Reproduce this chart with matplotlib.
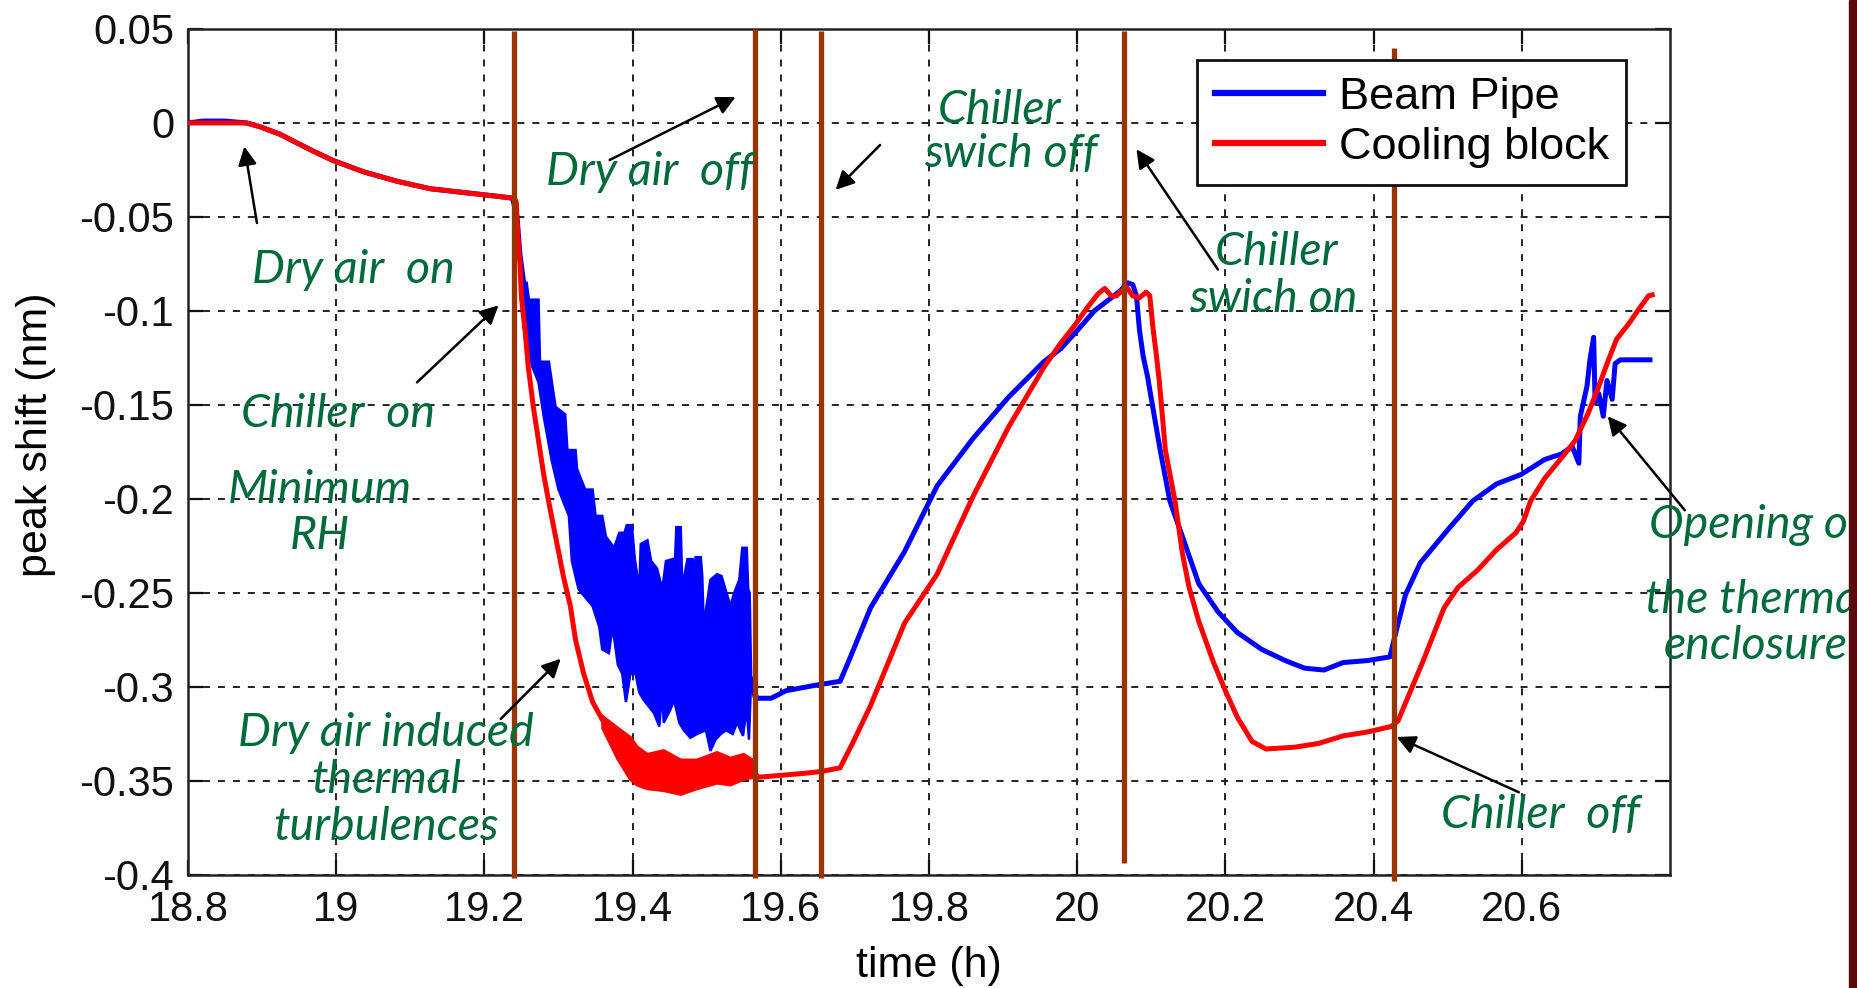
import numpy as np
import matplotlib.pyplot as plt
from matplotlib.patches import Rectangle

plt.rcParams['font.family'] = ['Liberation Sans', 'DejaVu Sans']
plt.rcParams['axes.unicode_minus'] = False

# Beam Pipe (blue) - smooth parts before / after the turbulent stretch
blue_t1 = [18.80, 18.82, 18.85, 18.879, 18.897, 18.924, 18.969, 18.996, 19.037, 19.082,
           19.127, 19.172, 19.217, 19.238, 19.244, 19.248, 19.253]
blue_v1 = [0.0, 0.001, 0.001, 0.0, -0.002, -0.006, -0.015, -0.020, -0.026, -0.031,
           -0.035, -0.037, -0.039, -0.040, -0.050, -0.070, -0.085]
blue_t2 = [19.560, 19.565, 19.570, 19.587, 19.607, 19.648, 19.680, 19.694, 19.721, 19.767,
           19.811, 19.859, 19.907, 19.955, 19.978, 20.001, 20.023, 20.046, 20.059, 20.068,
           20.075, 20.080, 20.084, 20.089, 20.095, 20.098, 20.112, 20.125, 20.142, 20.164,
           20.190, 20.216, 20.249, 20.281, 20.307, 20.333, 20.359, 20.391, 20.422, 20.430,
           20.443, 20.463, 20.482, 20.501, 20.534, 20.566, 20.599, 20.631, 20.654, 20.668,
           20.677, 20.679, 20.683, 20.688, 20.692, 20.697, 20.699, 20.704, 20.710, 20.715,
           20.722, 20.726, 20.733, 20.773]
blue_v2 = [-0.296, -0.305, -0.306, -0.306, -0.302, -0.299, -0.297, -0.284, -0.258, -0.228,
           -0.193, -0.168, -0.146, -0.127, -0.120, -0.110, -0.100, -0.093, -0.089, -0.085,
           -0.086, -0.092, -0.110, -0.124, -0.135, -0.142, -0.174, -0.201, -0.220, -0.245,
           -0.260, -0.271, -0.280, -0.286, -0.290, -0.291, -0.287, -0.286, -0.284, -0.271,
           -0.251, -0.234, -0.225, -0.216, -0.201, -0.192, -0.187, -0.179, -0.176, -0.172,
           -0.181, -0.156, -0.149, -0.140, -0.126, -0.114, -0.149, -0.144, -0.156, -0.137,
           -0.147, -0.128, -0.126, -0.126]

# Beam Pipe turbulent stretch: upper and lower envelope
blue_up_t = [19.253, 19.257, 19.260, 19.269, 19.273, 19.275, 19.287, 19.296, 19.309, 19.312,
             19.323, 19.325, 19.336, 19.346, 19.350, 19.359, 19.364, 19.375, 19.382, 19.389,
             19.392, 19.399, 19.403, 19.409, 19.411, 19.420, 19.425, 19.433, 19.440, 19.445,
             19.454, 19.456, 19.459, 19.465, 19.467, 19.474, 19.481, 19.482, 19.485, 19.492,
             19.494, 19.496, 19.505, 19.514, 19.520, 19.526, 19.532, 19.537, 19.544, 19.548,
             19.554, 19.556, 19.558, 19.560]
blue_up_v = [-0.085, -0.085, -0.094, -0.094, -0.094, -0.127, -0.127, -0.151, -0.155, -0.174,
             -0.174, -0.184, -0.195, -0.195, -0.209, -0.209, -0.220, -0.226, -0.218, -0.218,
             -0.214, -0.214, -0.232, -0.248, -0.224, -0.222, -0.233, -0.237, -0.248, -0.233,
             -0.232, -0.245, -0.215, -0.215, -0.247, -0.232, -0.232, -0.245, -0.231, -0.231,
             -0.241, -0.267, -0.243, -0.240, -0.241, -0.249, -0.257, -0.250, -0.243, -0.226,
             -0.226, -0.248, -0.250, -0.296]
blue_lo_t = [19.253, 19.264, 19.273, 19.280, 19.291, 19.300, 19.314, 19.318, 19.327, 19.346,
             19.355, 19.359, 19.368, 19.373, 19.380, 19.386, 19.391, 19.397, 19.404, 19.409,
             19.415, 19.429, 19.436, 19.440, 19.442, 19.451, 19.456, 19.463, 19.469, 19.478,
             19.487, 19.499, 19.505, 19.512, 19.519, 19.526, 19.535, 19.541, 19.549, 19.554,
             19.557, 19.560]
blue_lo_v = [-0.109, -0.129, -0.138, -0.156, -0.180, -0.195, -0.209, -0.233, -0.248, -0.257,
             -0.268, -0.280, -0.282, -0.268, -0.288, -0.293, -0.308, -0.293, -0.293, -0.303,
             -0.307, -0.314, -0.321, -0.302, -0.319, -0.312, -0.307, -0.319, -0.323, -0.327,
             -0.325, -0.323, -0.334, -0.328, -0.325, -0.323, -0.325, -0.319, -0.326, -0.311,
             -0.328, -0.296]

# Cooling block (red)
red_t1 = [18.80, 18.879, 18.897, 18.924, 18.969, 18.996, 19.037, 19.082, 19.127, 19.172,
          19.217, 19.240, 19.243, 19.245, 19.248, 19.250, 19.255, 19.259, 19.266, 19.273,
          19.280, 19.287, 19.296, 19.307, 19.316, 19.323, 19.334, 19.346, 19.360]
red_v1 = [0.0, 0.0, -0.002, -0.006, -0.015, -0.020, -0.026, -0.031, -0.035, -0.037,
          -0.039, -0.040, -0.042, -0.060, -0.075, -0.093, -0.111, -0.129, -0.151, -0.169,
          -0.187, -0.202, -0.220, -0.242, -0.257, -0.275, -0.293, -0.308, -0.318]
red_t2 = [19.562, 19.565, 19.570, 19.600, 19.630, 19.654, 19.680, 19.698, 19.721, 19.744,
          19.767, 19.811, 19.859, 19.907, 19.955, 19.978, 19.996, 20.014, 20.028, 20.037,
          20.046, 20.053, 20.066, 20.075, 20.084, 20.093, 20.098, 20.102, 20.107, 20.111,
          20.119, 20.132, 20.142, 20.151, 20.164, 20.184, 20.200, 20.216, 20.236, 20.255,
          20.294, 20.326, 20.359, 20.391, 20.424, 20.433, 20.450, 20.466, 20.482, 20.495,
          20.514, 20.540, 20.566, 20.592, 20.602, 20.612, 20.631, 20.654, 20.672, 20.690,
          20.704, 20.717, 20.728, 20.744, 20.758, 20.771, 20.776]
red_v2 = [-0.344, -0.346, -0.348, -0.347, -0.346, -0.345, -0.343, -0.329, -0.310, -0.288,
          -0.266, -0.240, -0.199, -0.162, -0.130, -0.117, -0.108, -0.098, -0.091, -0.088,
          -0.092, -0.092, -0.087, -0.092, -0.093, -0.090, -0.092, -0.108, -0.124, -0.138,
          -0.174, -0.201, -0.229, -0.247, -0.265, -0.287, -0.302, -0.316, -0.329, -0.333,
          -0.332, -0.330, -0.326, -0.324, -0.321, -0.318, -0.302, -0.287, -0.271, -0.258,
          -0.247, -0.238, -0.227, -0.218, -0.212, -0.201, -0.189, -0.178, -0.169, -0.154,
          -0.140, -0.126, -0.115, -0.107, -0.099, -0.092, -0.0915]

# Cooling block noisy stretch: envelope
red_band_t = [19.360, 19.380, 19.397, 19.406, 19.420, 19.442, 19.465, 19.487, 19.514, 19.532,
              19.550, 19.562]
red_band_up = [-0.316, -0.322, -0.327, -0.332, -0.336, -0.334, -0.339, -0.339, -0.335, -0.338,
               -0.336, -0.339]
red_band_lo = [-0.322, -0.338, -0.349, -0.352, -0.354, -0.355, -0.357, -0.354, -0.351, -0.352,
               -0.349, -0.348]

# event markers (brown vertical lines)
event_t = [19.240, 19.565, 19.654, 20.063, 20.428]
event_top = [0.049, 0.050, 0.049, 0.049, 0.040]
event_bot = [-0.4015, -0.4015, -0.4015, -0.3935, -0.403]

# green notes: text, x, y
notes = [
    ("Dry air  on", 19.023, -0.078),
    ("Chiller  on", 19.003, -0.155),
    ("Minimum", 18.978, -0.195),
    ("RH", 18.978, -0.2195),
    ("Dry air  off", 19.424, -0.026),
    ("Chiller", 19.895, 0.0069),
    ("swich off", 19.911, -0.0165),
    ("Chiller", 20.269, -0.0687),
    ("swich on", 20.264, -0.0934),
    ("Opening of", 20.916, -0.214),
    ("the thermal", 20.918, -0.254),
    ("enclosure", 20.916, -0.278),
    ("Chiller  off", 20.625, -0.368),
    ("Dry air induced", 19.067, -0.3246),
    ("thermal", 19.067, -0.3494),
    ("turbulences", 19.067, -0.3743),
]
# arrows: tail x, tail y, head x, head y
arrows = [
    (18.893, -0.0532, 18.876, -0.0125),
    (19.109, -0.138, 19.219, -0.097),
    (19.369, -0.0197, 19.539, 0.0138),
    (19.734, -0.0117, 19.674, -0.0356),
    (20.190, -0.078, 20.080, -0.0140),
    (20.820, -0.206, 20.716, -0.156),
    (20.596, -0.356, 20.431, -0.3266),
    (19.222, -0.317, 19.303, -0.285),
]

xticks = [18.8, 19.0, 19.2, 19.4, 19.6, 19.8, 20.0, 20.2, 20.4, 20.6]
xtick_labels = ['18.8', '19', '19.2', '19.4', '19.6', '19.8', '20', '20.2', '20.4', '20.6']
yticks = [-0.4, -0.35, -0.3, -0.25, -0.2, -0.15, -0.1, -0.05, 0.0, 0.05]
ytick_labels = ['-0.4', '-0.35', '-0.3', '-0.25', '-0.2', '-0.15', '-0.1', '-0.05', '0', '0.05']

BLUE = '#0000ff'
RED = '#ff0000'
BROWN = '#993300'
GREEN = '#006b3a'

fig = plt.figure(figsize=(18.58, 9.88), dpi=100)
ax = fig.add_axes([0.1012, 0.1144, 0.7976, 0.8563])

ax.plot(blue_t1, blue_v1, color=BLUE, lw=3.6, label='Beam Pipe', zorder=3)
ax.fill(np.r_[blue_up_t, blue_lo_t[::-1]], np.r_[blue_up_v, blue_lo_v[::-1]],
        color=BLUE, lw=1.8, zorder=3)
ax.plot(blue_t2, blue_v2, color=BLUE, lw=3.6, zorder=3)

ax.plot(red_t1, red_v1, color=RED, lw=3.6, label='Cooling block', zorder=3.5)
ax.fill(np.r_[red_band_t, red_band_t[::-1]], np.r_[red_band_up, red_band_lo[::-1]],
        color=RED, lw=2.5, zorder=3.5)
ax.plot(red_t2, red_v2, color=RED, lw=3.6, zorder=3.5)

for t, top, bot in zip(event_t, event_top, event_bot):
    ax.plot([t, t], [bot, top], color=BROWN, lw=3.8, solid_capstyle='butt',
            clip_on=False, zorder=5)

ax.set_xlim(18.8, 20.8)
ax.set_ylim(-0.4, 0.05)
ax.set_xticks(xticks)
ax.set_xticklabels(xtick_labels)
ax.set_yticks(yticks)
ax.set_yticklabels(ytick_labels)
ax.tick_params(direction='in', length=11, width=1.6, top=True, right=True,
               labelsize=30, colors='#111111')
ax.tick_params(axis='x', pad=11)
ax.tick_params(axis='y', pad=10)
for s in ax.spines.values():
    s.set_linewidth(1.8)
    s.set_color('#222222')
ax.grid(True, color='#222222', lw=1.4, linestyle=(0, (3.6, 4.1)))
ax.set_axisbelow(True)

ax.set_xlabel('time (h)', fontsize=31)
ax.set_ylabel('peak shift (nm)', fontsize=31)
ax.xaxis.set_label_coords(0.5, -0.1076)
ax.xaxis.label.set_va('center')
ax.yaxis.set_label_coords(-0.1026, 0.52)
ax.yaxis.label.set_va('center')

leg = ax.legend(loc='upper right', bbox_to_anchor=(0.9703, 0.9634), borderaxespad=0,
                fontsize=32.5, fancybox=False, framealpha=1, edgecolor='#111111',
                handlelength=2.4, handletextpad=0.35, borderpad=0.38, labelspacing=0.2)
leg.get_frame().set_linewidth(2.0)
for h in leg.get_lines():
    h.set_linewidth(4.5)

for label, x, y in notes:
    ax.text(x, y, label, color=GREEN, fontsize=33.5, style='italic',
            family=['Lato', 'DejaVu Sans'], ha='center', va='center', zorder=6)

for tx, ty, hx, hy in arrows:
    ax.annotate('', xy=(hx, hy), xytext=(tx, ty), annotation_clip=False,
                arrowprops=dict(arrowstyle='-|>', color='black', lw=1.8,
                                mutation_scale=28, shrinkA=0, shrinkB=0), zorder=6)

# slide border on the right edge
fig.add_artist(Rectangle((1849 / 1858, 0), 9 / 1858, 1, transform=fig.transFigure,
                         color='#5a0b0b', zorder=10))

fig.savefig('out.png', dpi=100)
